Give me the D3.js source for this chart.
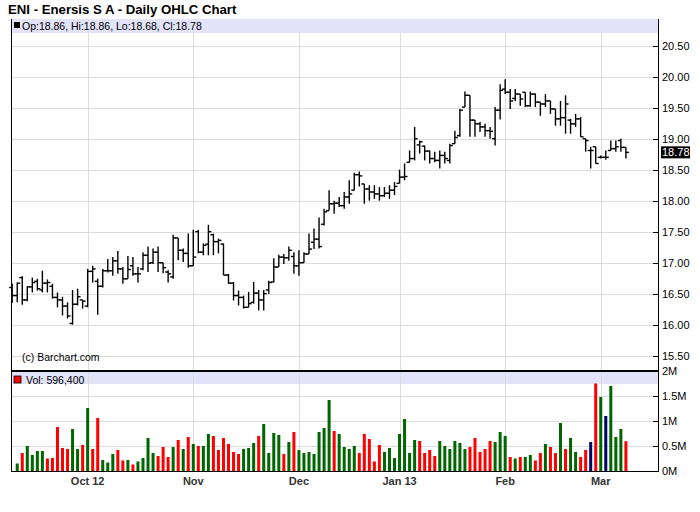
<!DOCTYPE html>
<html><head><meta charset="utf-8">
<script src="https://cdn.jsdelivr.net/npm/d3@7"></script>
<style>body{margin:0;background:#fff}svg{display:block;font-family:"Liberation Sans",Arial,sans-serif}</style>
</head><body><div id="chart"></div>
<script>
const opens=[16.60,16.47,16.76,16.40,16.61,16.70,16.56,16.67,16.62,16.44,
16.40,16.30,16.02,16.33,16.40,16.30,16.86,16.70,16.62,16.87,
16.87,17.03,16.90,16.74,16.95,16.82,16.90,17.12,17.00,17.17,
17.00,16.85,16.77,17.40,17.20,17.15,16.95,17.50,17.17,17.30,
17.45,17.34,17.30,16.80,16.67,16.47,16.44,16.28,16.36,16.51,
16.40,16.56,16.69,16.93,17.09,17.08,17.10,16.95,17.00,17.14,
17.33,17.38,17.62,17.84,17.95,17.96,17.92,18.06,18.17,18.42,
18.27,18.19,18.14,18.11,18.08,18.12,18.17,18.28,18.38,18.62,
18.68,18.90,18.88,18.80,18.68,18.65,18.73,18.65,18.92,19.05,
19.51,19.70,19.30,19.24,19.19,19.13,19.00,19.46,19.80,19.75,
19.65,19.72,19.75,19.53,19.72,19.59,19.56,19.61,19.48,19.32,
19.34,19.30,19.24,19.32,19.00,18.81,18.87,18.70,18.70,18.81,
18.84,18.97,18.86];
const highs=[16.66,16.68,16.78,16.62,16.76,16.74,16.87,16.73,16.66,16.52,
16.45,16.36,16.56,16.58,16.40,16.90,16.95,16.74,16.90,17.06,
17.09,17.19,16.93,17.11,17.09,16.93,17.17,17.26,17.23,17.26,
17.00,16.88,17.45,17.40,17.23,17.47,17.53,17.53,17.31,17.61,
17.47,17.39,17.31,16.82,16.69,16.55,16.47,16.53,16.69,16.56,
16.56,16.71,17.07,17.13,17.14,17.26,17.17,17.20,17.17,17.47,
17.55,17.73,17.87,18.17,18.00,18.06,18.14,18.33,18.45,18.47,
18.27,18.25,18.25,18.22,18.22,18.25,18.30,18.50,18.60,18.81,
19.19,18.97,18.89,18.81,18.79,18.81,18.79,18.92,19.13,19.48,
19.76,19.70,19.30,19.27,19.24,19.19,19.51,19.88,19.96,19.80,
19.80,19.72,19.75,19.76,19.73,19.59,19.72,19.61,19.48,19.61,
19.70,19.32,19.40,19.35,19.00,18.87,18.87,18.73,18.81,18.97,
18.97,19.00,18.86];
const lows=[16.35,16.36,16.32,16.38,16.52,16.55,16.52,16.52,16.42,16.28,
16.15,16.10,16.00,16.31,16.26,16.28,16.68,16.16,16.60,16.84,
16.79,16.82,16.66,16.74,16.79,16.68,16.88,16.85,16.98,16.85,
16.83,16.68,16.74,17.04,17.01,16.92,16.95,17.15,17.12,17.12,
17.12,17.15,16.80,16.66,16.39,16.31,16.26,16.28,16.34,16.23,
16.23,16.50,16.68,16.93,16.98,17.03,16.82,16.79,17.00,17.14,
17.22,17.23,17.60,17.84,17.79,17.90,17.87,17.95,18.17,18.23,
17.95,18.00,18.03,18.00,18.06,18.03,18.09,18.28,18.33,18.62,
18.65,18.76,18.65,18.60,18.62,18.52,18.60,18.60,18.92,19.03,
19.51,19.03,19.03,19.11,19.03,19.00,18.89,19.31,19.72,19.48,
19.61,19.53,19.51,19.52,19.51,19.37,19.51,19.40,19.21,19.21,
19.08,19.08,19.19,19.03,18.79,18.52,18.60,18.68,18.66,18.81,
18.79,18.79,18.68];
const closes=[16.47,16.67,16.40,16.61,16.68,16.58,16.67,16.68,16.44,16.40,
16.30,16.14,16.33,16.45,16.38,16.86,16.90,16.62,16.87,16.87,
17.03,16.90,16.74,16.89,16.82,16.82,17.12,16.99,17.17,17.00,
16.92,16.82,17.40,17.20,17.15,16.95,17.09,17.17,17.28,17.50,
17.34,17.36,16.80,16.67,16.47,16.44,16.28,16.34,16.51,16.40,
16.50,16.68,16.93,17.09,17.08,17.20,16.95,17.00,17.14,17.22,
17.38,17.26,17.82,17.95,17.96,17.92,18.06,18.11,18.42,18.40,
18.19,18.14,18.11,18.08,18.12,18.17,18.23,18.38,18.39,18.68,
19.00,18.95,18.80,18.68,18.65,18.73,18.68,18.89,19.02,19.46,
19.70,19.30,19.24,19.19,19.13,19.12,19.46,19.78,19.75,19.61,
19.72,19.64,19.53,19.72,19.59,19.56,19.61,19.48,19.32,19.34,
19.56,19.24,19.32,19.03,18.97,18.81,18.60,18.70,18.70,18.84,
18.87,18.86,18.78];
// volume in thousands
const volumes=[null,150,360,500,320,400,400,250,260,880,
460,440,840,440,520,1260,440,1060,220,170,
340,420,210,220,130,190,260,660,360,300,
480,280,480,620,440,680,540,500,500,740,
700,420,660,540,380,340,440,460,560,700,
940,360,760,720,340,580,780,420,360,380,
340,780,860,1420,800,740,480,440,500,360,
740,640,190,520,380,460,260,740,1040,360,
620,600,360,420,300,600,500,440,600,560,
440,480,660,380,440,600,580,780,700,280,
250,280,280,320,210,360,540,480,360,960,
440,660,380,280,420,580,1750,1480,1100,1700,
680,840,596.4];
const volDir=["","g","r","g","g","g","g","r","r","r",
"r","r","g","g","r","g","r","r","g","g",
"g","r","r","g","r","g","g","g","g","r",
"r","r","g","r","g","r","g","r","g","g",
"r","r","r","r","r","r","g","g","g","r",
"g","g","g","g","r","g","r","g","g","g",
"g","g","g","g","r","g","g","g","g","r",
"r","r","r","r","g","g","g","g","g","g",
"g","r","r","r","r","g","g","g","g","g",
"g","r","r","r","r","r","g","g","g","r",
"g","r","g","g","r","r","g","r","r","g",
"r","g","g","r","r","b","r","g","b","g",
"g","g","r"];
const monthLabels=["Oct 12","Nov","Dec","Jan 13","Feb","Mar"];
const monthIndex=[15,36,57,77,98,117];
const priceTicks=[15.5,16,16.5,17,17.5,18,18.5,19,19.5,20,20.5];
const volTicks=[0,500,1000,1500,2000];
const volTickLabels=["0M","0.5M","1M","1.5M","2M"];
const title="ENI - Enersis S A - Daily OHLC Chart";

const W=700,H=512;
const L=11,R=658,PT=19,PB=371,VB=471;
const svg=d3.select("#chart").append("svg").attr("width",W).attr("height",H);
const x=d3.scaleLinear().domain([0,122]).range([12.2,625.9]);
const yP=d3.scaleLinear().domain([15.253,20.947]).range([371,18]);
const yV=d3.scaleLinear().domain([0,2000]).range([VB,PB]);
const colors={g:"#006600",r:"#ff0000",b:"#000066"};
const gridC="#dcdcdc";

svg.append("text").attr("x",8).attr("y",14).attr("font-size",13.2).attr("font-weight","bold").text(title);

// price grid
const gp=svg.append("g");
gp.selectAll("line.h").data(priceTicks).join("line")
 .attr("x1",L).attr("x2",R).attr("y1",d=>Math.round(yP(d))+0.5).attr("y2",d=>Math.round(yP(d))+0.5)
 .attr("stroke",gridC);
gp.selectAll("line.v").data(monthIndex).join("line")
 .attr("x1",d=>Math.round(x(d))+0.5).attr("x2",d=>Math.round(x(d))+0.5).attr("y1",33).attr("y2",PB)
 .attr("stroke",gridC);
// price band
svg.append("rect").attr("x",L+1).attr("y",PT).attr("width",R-L-1).attr("height",14).attr("fill","#e2e2f8");
svg.append("rect").attr("x",14).attr("y",22).attr("width",6).attr("height",6).attr("fill","#000");
const li=opens.length-1;
svg.append("text").attr("x",22).attr("y",29.5).attr("font-size",10.5)
 .text(`Op:${opens[li].toFixed(2)}, Hi:${highs[li].toFixed(2)}, Lo:${lows[li].toFixed(2)}, Cl:${closes[li].toFixed(2)}`);
svg.append("text").attr("x",22).attr("y",361).attr("font-size",10.5).text("(c) Barchart.com");

// OHLC bars
const bars=svg.append("g").attr("stroke","#000").attr("stroke-width",1.4);
const idx=d3.range(opens.length);
bars.selectAll("line.hl").data(idx).join("line")
 .attr("x1",i=>x(i)).attr("x2",i=>x(i)).attr("y1",i=>yP(highs[i])).attr("y2",i=>yP(lows[i]));
bars.selectAll("line.o").data(idx).join("line").attr("class","o")
 .attr("x1",i=>x(i)-3).attr("x2",i=>x(i)).attr("y1",i=>yP(opens[i])).attr("y2",i=>yP(opens[i]));
bars.selectAll("line.c").data(idx).join("line").attr("class","c")
 .attr("x1",i=>x(i)).attr("x2",i=>x(i)+3).attr("y1",i=>yP(closes[i])).attr("y2",i=>yP(closes[i]));

// volume panel
svg.append("rect").attr("x",L+1).attr("y",PB+1).attr("width",R-L-1).attr("height",12).attr("fill","#e2e2f8");
const gv=svg.append("g");
gv.selectAll("line.h").data(volTicks.slice(1,4)).join("line")
 .attr("x1",L).attr("x2",R).attr("y1",d=>Math.round(yV(d))+0.5).attr("y2",d=>Math.round(yV(d))+0.5).attr("stroke",gridC);
gv.selectAll("line.v").data(monthIndex).join("line")
 .attr("x1",d=>Math.round(x(d))+0.5).attr("x2",d=>Math.round(x(d))+0.5).attr("y1",PB).attr("y2",VB).attr("stroke",gridC);
svg.append("rect").attr("x",14).attr("y",376).attr("width",7).attr("height",7).attr("fill","#ff0000").attr("stroke","#000").attr("stroke-width",0.8);
svg.append("text").attr("x",26).attr("y",383.5).attr("font-size",10.5).text("Vol: "+d3.format(",")(Math.round(volumes[li]*1000)));
svg.append("g").selectAll("rect").data(idx.filter(i=>volumes[i]!=null)).join("rect")
 .attr("x",i=>x(i)-1.5).attr("width",3).attr("y",i=>yV(volumes[i])).attr("height",i=>yV(0)-yV(volumes[i]))
 .attr("fill",i=>colors[volDir[i]]);

// frame
svg.append("line").attr("x1",L+0.5).attr("x2",L+0.5).attr("y1",PT).attr("y2",VB).attr("stroke","#000");
svg.append("line").attr("x1",R+0.5).attr("x2",R+0.5).attr("y1",PT).attr("y2",VB).attr("stroke","#000");
svg.append("line").attr("x1",L).attr("x2",R+1).attr("y1",VB+0.5).attr("y2",VB+0.5).attr("stroke","#000");
svg.append("line").attr("x1",L).attr("x2",R+1).attr("y1",PB).attr("y2",PB).attr("stroke","#000").attr("stroke-width",2);

// right axes
const ax=svg.append("g").attr("font-size",11);
ax.selectAll("line.pt").data(priceTicks).join("line").attr("x1",R-5).attr("x2",R)
 .attr("y1",d=>Math.round(yP(d))+0.5).attr("y2",d=>Math.round(yP(d))+0.5).attr("stroke","#000");
ax.selectAll("text.pt").data(priceTicks).join("text").attr("x",662).attr("y",d=>yP(d)+4).text(d=>d.toFixed(2));
ax.selectAll("line.vt").data(volTicks).join("line").attr("x1",R-5).attr("x2",R)
 .attr("y1",d=>Math.round(yV(d))+0.5).attr("y2",d=>Math.round(yV(d))+0.5).attr("stroke","#000");
ax.selectAll("text.vt").data(volTicks).join("text").attr("x",662).attr("y",d=>yV(d)+4).text((d,i)=>volTickLabels[i]);
// last price flag
const ly=yP(closes[li]);
svg.append("rect").attr("x",661).attr("y",ly-6).attr("width",29).attr("height",12).attr("fill","#000");
svg.append("text").attr("x",662).attr("y",ly+4).attr("font-size",11).attr("fill","#fff").text(closes[li].toFixed(2));

// month labels
svg.append("g").selectAll("text").data(monthIndex).join("text")
 .attr("x",d=>x(d)).attr("y",485).attr("text-anchor","middle").attr("font-size",11).attr("font-weight","bold").attr("fill","#333")
 .text((d,i)=>monthLabels[i]);
</script></body></html>
